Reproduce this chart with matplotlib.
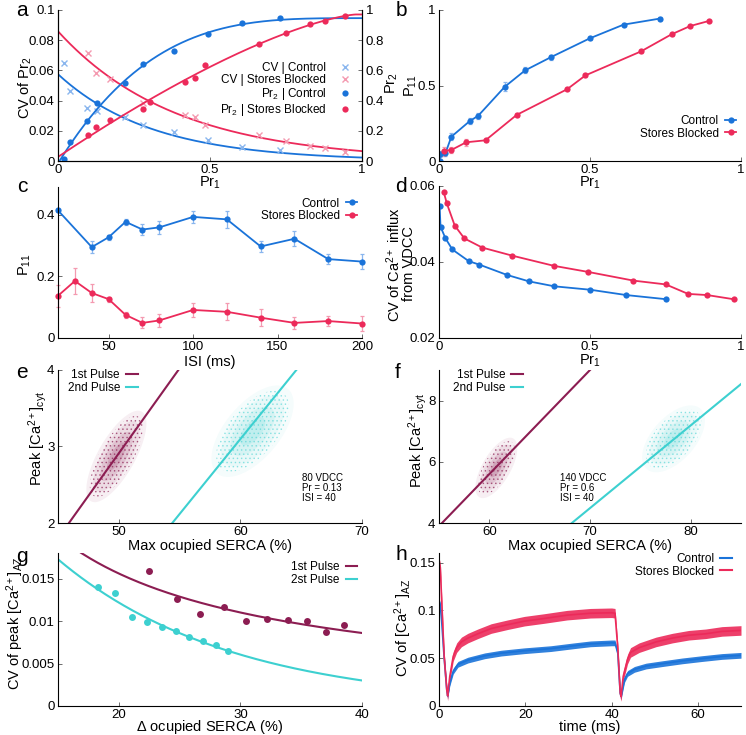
import numpy as np
import matplotlib
matplotlib.use("Agg")
import matplotlib.pyplot as plt
from matplotlib.lines import Line2D

plt.rcParams['font.family'] = ['Liberation Sans', 'DejaVu Sans']
plt.rcParams['mathtext.fontset'] = 'custom'
plt.rcParams['mathtext.rm'] = 'Liberation Sans'
plt.rcParams['mathtext.it'] = 'Liberation Sans:italic'
plt.rcParams['mathtext.default'] = 'regular'
plt.rcParams['hatch.linewidth'] = 0.6

BLUE = '#1a73d9'
RED = '#ec2a5a'
LBLUE = '#8ab6ee'
LRED = '#f49ab0'
MAROON = '#8c1d52'
CYAN = '#3dd0d0'

# ---- panel a ----
a_cv_ctrl_x = [0.02, 0.038, 0.095, 0.129, 0.221, 0.28, 0.38, 0.493, 0.606, 0.729]
a_cv_ctrl_y = [0.0647, 0.0466, 0.0353, 0.033, 0.0289, 0.0238, 0.019, 0.0139, 0.0095, 0.0073]
a_cv_sb_x = [0.099, 0.126, 0.172, 0.28, 0.417, 0.452, 0.482, 0.661, 0.751, 0.828, 0.877, 0.943]
a_cv_sb_y = [0.0713, 0.0585, 0.0543, 0.0386, 0.0305, 0.0289, 0.0238, 0.0172, 0.0135, 0.0099, 0.0088, 0.0062]
a_pr_ctrl_x = [0.02, 0.038, 0.095, 0.129, 0.221, 0.28, 0.38, 0.493, 0.606, 0.729]
a_pr_ctrl_y = [0.011, 0.128, 0.265, 0.382, 0.514, 0.642, 0.731, 0.839, 0.916, 0.945]
a_pr_sb_x = [0.099, 0.126, 0.172, 0.28, 0.302, 0.417, 0.452, 0.482, 0.661, 0.751, 0.828, 0.877, 0.943]
a_pr_sb_y = [0.170, 0.227, 0.272, 0.347, 0.393, 0.525, 0.55, 0.634, 0.775, 0.848, 0.907, 0.929, 0.962]

# ---- panel b ----
b_ctrl_x = [0.002, 0.004, 0.021, 0.041, 0.101, 0.130, 0.218, 0.285, 0.37, 0.499, 0.611, 0.731]
b_ctrl_y = [0.0, 0.046, 0.05, 0.161, 0.263, 0.30, 0.492, 0.60, 0.687, 0.812, 0.903, 0.943]
b_ctrl_e = [0.0, 0.02, 0.02, 0.025, 0.02, 0.02, 0.03, 0.02, 0.015, 0.008, 0.008, 0.008]
b_sb_x = [0.015, 0.041, 0.09, 0.154, 0.257, 0.424, 0.485, 0.669, 0.77, 0.832, 0.893]
b_sb_y = [0.066, 0.073, 0.124, 0.137, 0.305, 0.475, 0.567, 0.726, 0.839, 0.894, 0.927]
b_sb_e = [0.03, 0.02, 0.025, 0.01, 0.012, 0.008, 0.008, 0.008, 0.008, 0.008, 0.008]

# ---- panel c ----
c_ctrl_x = [20, 40, 50, 60, 70, 80, 100, 120, 140, 160, 180, 200]
c_ctrl_y = [0.414, 0.295, 0.327, 0.377, 0.352, 0.359, 0.393, 0.385, 0.297, 0.322, 0.256, 0.248]
c_ctrl_e = [0.005, 0.02, 0.008, 0.01, 0.017, 0.02, 0.02, 0.028, 0.017, 0.025, 0.017, 0.023]
c_sb_x = [20, 30, 40, 50, 60, 70, 80, 100, 120, 140, 160, 180, 200]
c_sb_y = [0.137, 0.185, 0.146, 0.126, 0.075, 0.049, 0.057, 0.091, 0.085, 0.066, 0.049, 0.055, 0.047]
c_sb_e = [0.035, 0.042, 0.028, 0.008, 0.01, 0.018, 0.022, 0.022, 0.028, 0.027, 0.02, 0.017, 0.023]

# ---- panel d ----
d_ctrl_x = [0.002, 0.005, 0.021, 0.044, 0.099, 0.134, 0.225, 0.298, 0.382, 0.501, 0.62, 0.753]
d_ctrl_y = [0.0547, 0.0493, 0.0463, 0.0433, 0.0402, 0.0393, 0.0366, 0.0349, 0.0336, 0.0327, 0.0313, 0.0302]
d_sb_x = [0.016, 0.026, 0.052, 0.084, 0.143, 0.241, 0.38, 0.493, 0.644, 0.751, 0.825, 0.888, 0.976]
d_sb_y = [0.0583, 0.0554, 0.0496, 0.0462, 0.0438, 0.0417, 0.039, 0.0374, 0.0351, 0.0341, 0.0316, 0.0313, 0.0302]

# ---- panels e, f: clouds (mean, sd, correlation) and regression lines ----
e_cloud1 = dict(mean=(49.8, 2.87), sd=(0.95, 0.23), rho=0.72)
e_cloud2 = dict(mean=(61.0, 3.2), sd=(1.3, 0.23), rho=0.6)
e_line1_x, e_line1_y = [45.9, 54.9], [2.0, 4.0]
e_line2_x, e_line2_y = [54.4, 64.6], [2.0, 4.0]
f_cloud1 = dict(mean=(60.7, 5.8), sd=(0.8, 0.38), rho=0.65)
f_cloud2 = dict(mean=(78.3, 6.75), sd=(1.2, 0.42), rho=0.55)
f_line1_x, f_line1_y = [55.3, 70.0], [4.0, 9.0]
f_line2_x, f_line2_y = [68.2, 85.0], [4.0, 8.54]

# ---- panel g ----
g_p1_x = [22.49, 24.78, 26.69, 28.65, 30.5, 32.2, 33.9, 35.47, 37.04, 38.56]
g_p1_y = [0.01584, 0.01264, 0.0108, 0.01168, 0.01004, 0.01028, 0.01016, 0.00996, 0.00876, 0.00948]
g_p2_x = [18.26, 19.72, 21.1, 22.29, 23.59, 24.7, 25.8, 26.9, 28.0, 29.0]
g_p2_y = [0.0140, 0.01332, 0.01052, 0.00992, 0.00924, 0.00884, 0.00812, 0.0076, 0.00716, 0.00644]

# ---- panel h ----
h_red_t = [0, 0.3, 0.6, 1.2, 1.8, 2.0, 2.5, 3.3, 4.1, 5.2, 6.7, 9.0, 12.1, 15.9, 19.8, 24.4, 29.7, 35.1,
           40.0, 40.8, 41.45, 42.0, 42.2, 42.7, 43.7, 44.4, 46.4, 50.3, 54.1, 57.9, 61.8, 65.6, 70]
h_red_v = [0.15, 0.145, 0.113, 0.052, 0.017, 0.0106, 0.031, 0.052, 0.061, 0.067, 0.071, 0.0755, 0.081,
           0.085, 0.0887, 0.0915, 0.095, 0.097, 0.0975, 0.097, 0.06, 0.0135, 0.010, 0.031, 0.049, 0.056,
           0.061, 0.067, 0.071, 0.074, 0.0755, 0.078, 0.079]
h_blue_t = [0, 0.3, 0.6, 1.2, 1.8, 2.0, 2.5, 3.3, 4.4, 6.7, 10.6, 14.4, 19.8, 25.9, 31.3, 35.1, 40.0,
            40.8, 41.45, 42.0, 42.2, 43.0, 43.7, 45.3, 48, 51.8, 56.4, 61, 65.6, 70]
h_blue_v = [0.11, 0.105, 0.09, 0.05, 0.017, 0.0106, 0.024, 0.0365, 0.0436, 0.048, 0.0525, 0.0553, 0.0578,
            0.060, 0.063, 0.065, 0.066, 0.066, 0.055, 0.0135, 0.010, 0.0277, 0.034, 0.0383, 0.0418,
            0.0443, 0.0472, 0.0496, 0.0518, 0.053]


def fit_scaled(x, y, basis, grid):
    # least squares y = A * basis(x, p), best p over a grid
    x = np.asarray(x); y = np.asarray(y)
    best = None
    for p in grid:
        b = basis(x, p)
        A = (b @ y) / (b @ b)
        err = np.sum((A * b - y) ** 2)
        if best is None or err < best[0]:
            best = (err, p, A)
    _, p, A = best
    return lambda t: A * basis(t, p)


def style(ax, xlim, ylim, xt, xtl, yt, ytl):
    ax.set_xlim(*xlim); ax.set_ylim(*ylim)
    ax.set_xticks(xt, xtl); ax.set_yticks(yt, ytl)
    for s in ['top', 'right']:
        ax.spines[s].set_visible(False)
    for s in ['left', 'bottom']:
        ax.spines[s].set_linewidth(0.8)
    ax.tick_params(direction='in', length=3, width=0.6, labelsize=9.5, pad=2.5, color='#555555')


def cloud(ax, c, color, dens):
    sx, sy = c['sd']; r = c['rho']
    cov = np.array([[sx * sx, r * sx * sy], [r * sx * sy, sy * sy]])
    L = np.linalg.cholesky(cov)
    th = np.linspace(0, 2 * np.pi, 120)
    circ = np.vstack([np.cos(th), np.sin(th)])
    for k, al in [(2.6, 0.05), (2.0, 0.07), (1.4, 0.10), (0.8, 0.14)]:
        pts = (L @ circ) * k + np.array(c['mean'])[:, None]
        ax.fill(pts[0], pts[1], facecolor=color, alpha=al * dens, edgecolor='none', lw=0)
    pts = (L @ circ) * 2.3 + np.array(c['mean'])[:, None]
    ax.fill(pts[0], pts[1], facecolor='none', edgecolor=color, alpha=0.45 * dens, lw=0, hatch='....')


def legend(ax, handles, labels, anchor, hl=1.0):
    ax.legend(handles, labels, loc='upper right', bbox_to_anchor=anchor, frameon=False,
              markerfirst=False, fontsize=LEGS, handlelength=hl, handletextpad=0.5,
              labelspacing=0.05, borderpad=0, borderaxespad=0)


W, H = 746, 735
fig = plt.figure(figsize=(W / 100, H / 100), dpi=100)


def axes_px(l, r, t, b):
    return fig.add_axes([l / W, 1 - b / H, (r - l) / W, (b - t) / H])


def ftext(x, y, s, rot=0, size=None):
    fig.text(x / W, 1 - y / H, s, rotation=rot, ha='center', va='center',
             fontsize=size or LABS, linespacing=0.95)


LABS = 10.5
LEGS = 8.5

# panel a
ax = axes_px(58, 362, 10, 161)
style(ax, (0, 1), (0, 0.1), [0, 0.5, 1], ['0', '0.5', '1'],
      [0, 0.02, 0.04, 0.06, 0.08, 0.1], ['0', '0.02', '0.04', '0.06', '0.08', '0.1'])
ax.spines['right'].set_visible(True); ax.spines['right'].set_linewidth(0.8)
ax2 = ax.twinx()
ax2.set_ylim(0, 1)
ax2.set_yticks([0, 0.2, 0.4, 0.6, 0.8, 1], ['0', '0.2', '0.4', '0.6', '0.8', '1'])
ax2.spines['top'].set_visible(False); ax2.spines['right'].set_linewidth(0.8)
ax2.tick_params(direction='in', length=3, width=0.6, labelsize=9.5, pad=2.5, color='#555555')
xx = np.linspace(0, 1, 300)
decay = lambda t, b: np.exp(-b * np.asarray(t))
sat = lambda t, p: 1 - np.clip(1 - (np.asarray(t) - p[1]), 0, 1) ** p[0]
sat_grid = [(n, x0) for n in np.linspace(1, 5, 161) for x0 in np.linspace(-0.02, 0.05, 15)]
f_cvc = fit_scaled(a_cv_ctrl_x, a_cv_ctrl_y, decay, np.linspace(0.5, 6, 221))
f_cvs = fit_scaled(a_cv_sb_x, a_cv_sb_y, decay, np.linspace(0.5, 6, 221))
f_prc = fit_scaled(a_pr_ctrl_x, a_pr_ctrl_y, sat, sat_grid)
f_prs = fit_scaled(a_pr_sb_x, a_pr_sb_y, sat, sat_grid)
ax.plot(xx, f_cvc(xx), color=BLUE, lw=1.3)
ax.plot(xx, f_cvs(xx), color=RED, lw=1.3)
ax2.plot(xx, np.clip(f_prc(xx), 0, None), color=BLUE, lw=1.3)
ax2.plot(xx, np.clip(f_prs(xx), 0, None), color=RED, lw=1.3)
ax.plot(a_cv_ctrl_x, a_cv_ctrl_y, 'x', color=LBLUE, ms=5, mew=1)
ax.plot(a_cv_sb_x, a_cv_sb_y, 'x', color=LRED, ms=5, mew=1)
ax2.plot(a_pr_ctrl_x, a_pr_ctrl_y, 'o', color=BLUE, ms=4.5, mec='none')
ax2.plot(a_pr_sb_x, a_pr_sb_y, 'o', color=RED, ms=4.5, mec='none')
hs = [Line2D([], [], ls='none', marker='x', color=LBLUE, ms=5, mew=1),
      Line2D([], [], ls='none', marker='x', color=LRED, ms=5, mew=1),
      Line2D([], [], ls='none', marker='o', color=BLUE, ms=4.5, mec='none'),
      Line2D([], [], ls='none', marker='o', color=RED, ms=4.5, mec='none')]
ax2.legend(hs, ['CV | Control', 'CV | Stores Blocked', 'Pr$_2$ | Control', 'Pr$_2$ | Stores Blocked'],
           loc='upper right', bbox_to_anchor=(0.96, 0.655), frameon=False, markerfirst=False,
           fontsize=LEGS, handlelength=0.8, handletextpad=1.2, labelspacing=0.0, borderpad=0,
           borderaxespad=0)
ftext(25, 88, 'CV of Pr$_2$', 90)
ftext(392, 83, 'Pr$_2$', 90)
ftext(210, 183, 'Pr$_1$')

# panel b
ax = axes_px(439, 741, 10, 161)
style(ax, (0, 1), (0, 1), [0, 0.5, 1], ['0', '0.5', '1'], [0, 0.5, 1], ['0', '0.5', '1'])
ax.errorbar(b_ctrl_x, b_ctrl_y, yerr=b_ctrl_e, color=BLUE, lw=1.3, marker='o', ms=4.5, mec='none',
            ecolor=LBLUE, elinewidth=0.9, capsize=1.5, capthick=0.9)
ax.errorbar(b_sb_x, b_sb_y, yerr=b_sb_e, color=RED, lw=1.3, marker='o', ms=4.5, mec='none',
            ecolor=LRED, elinewidth=0.9, capsize=1.5, capthick=0.9)
hs = [Line2D([], [], color=BLUE, lw=1.3, marker='o', ms=4.5, mec='none'),
      Line2D([], [], color=RED, lw=1.3, marker='o', ms=4.5, mec='none')]
legend(ax, hs, ['Control', 'Stores Blocked'], (0.985, 0.305))
ftext(411, 86, 'P$_{11}$', 90)
ftext(590, 183, 'Pr$_1$')

# panel c
ax = axes_px(58, 362, 187, 338)
style(ax, (20, 200), (0, 0.49), [50, 100, 150, 200], ['50', '100', '150', '200'],
      [0, 0.2, 0.4], ['0', '0.2', '0.4'])
ax.errorbar(c_ctrl_x, c_ctrl_y, yerr=c_ctrl_e, color=BLUE, lw=1.3, marker='o', ms=4.5, mec='none',
            ecolor=LBLUE, elinewidth=0.9, capsize=1.5, capthick=0.9, clip_on=False)
ax.errorbar(c_sb_x, c_sb_y, yerr=c_sb_e, color=RED, lw=1.3, marker='o', ms=4.5, mec='none',
            ecolor=LRED, elinewidth=0.9, capsize=1.5, capthick=0.9, clip_on=False)
legend(ax, hs, ['Control', 'Stores Blocked'], (0.985, 0.93))
ftext(25, 265, 'P$_{11}$', 90)
ftext(210, 362, 'ISI (ms)')

# panel d
ax = axes_px(439, 741, 186, 338)
style(ax, (0, 1), (0.02, 0.06), [0, 0.5, 1], ['0', '0.5', '1'],
      [0.02, 0.04, 0.06], ['0.02', '0.04', '0.06'])
ax.plot(d_ctrl_x, d_ctrl_y, color=BLUE, lw=1.3, marker='o', ms=4.5, mec='none')
ax.plot(d_sb_x, d_sb_y, color=RED, lw=1.3, marker='o', ms=4.5, mec='none')
ftext(400, 264, 'CV of Ca$^{2+}$ influx\nfrom VDCC', 90)
ftext(590, 361, 'Pr$_1$')

pulse_h = [Line2D([], [], color=MAROON, lw=1.5), Line2D([], [], color=CYAN, lw=1.5)]

# panel e
ax = axes_px(58, 362, 370, 523)
style(ax, (45, 70), (2, 4), [50, 60, 70], ['50', '60', '70'], [2, 3, 4], ['2', '3', '4'])
cloud(ax, e_cloud1, MAROON, 1.3)
cloud(ax, e_cloud2, CYAN, 1.0)
ax.plot(e_line1_x, e_line1_y, color=MAROON, lw=1.5)
ax.plot(e_line2_x, e_line2_y, color=CYAN, lw=1.5)
legend(ax, pulse_h, ['1st Pulse', '2nd Pulse'], (0.262, 1.005))
ax.text(0.803, 0.33, '80 VDCC\nPr = 0.13\nISI = 40', transform=ax.transAxes, fontsize=7,
        va='top', ha='left', linespacing=1.0)
ftext(38, 438, 'Peak [Ca$^{2+}$]$_{cyt}$', 90)
ftext(210, 546, 'Max ocupied SERCA (%)')

# panel f
ax = axes_px(439, 741, 370, 523)
style(ax, (55, 85), (4, 9), [60, 70, 80], ['60', '70', '80'], [4, 6, 8], ['4', '6', '8'])
cloud(ax, f_cloud1, MAROON, 1.3)
cloud(ax, f_cloud2, CYAN, 1.0)
ax.plot(f_line1_x, f_line1_y, color=MAROON, lw=1.5)
ax.plot(f_line2_x, f_line2_y, color=CYAN, lw=1.5)
legend(ax, pulse_h, ['1st Pulse', '2nd Pulse'], (0.278, 1.005))
ax.text(0.40, 0.33, '140 VDCC\nPr = 0.6\nISI = 40', transform=ax.transAxes, fontsize=7,
        va='top', ha='left', linespacing=1.0)
ftext(418, 440, 'Peak [Ca$^{2+}$]$_{cyt}$', 90)
ftext(590, 546, 'Max ocupied SERCA (%)')

# panel g
ax = axes_px(58, 362, 553, 706)
style(ax, (15, 40), (0, 0.018), [20, 30, 40], ['20', '30', '40'],
      [0, 0.005, 0.01, 0.015], ['0', '0.005', '0.01', '0.015'])
gx = np.linspace(15, 40, 200)
p1 = np.polyfit(np.log(g_p1_x), np.log(g_p1_y), 1)      # power law
p2 = np.polyfit(g_p2_x, np.log(g_p2_y), 1)              # exponential
ax.plot(gx, np.exp(np.polyval(p1, np.log(gx))), color=MAROON, lw=1.5)
ax.plot(gx, np.exp(np.polyval(p2, gx)), color=CYAN, lw=1.5)
ax.plot(g_p1_x, g_p1_y, 'o', color=MAROON, ms=5, mec='none')
ax.plot(g_p2_x, g_p2_y, 'o', color=CYAN, ms=5, mec='none')
legend(ax, pulse_h, ['1st Pulse', '2st Pulse'], (0.985, 0.945))
ftext(15, 623, 'CV of peak [Ca$^{2+}$]$_{AZ}$', 90)
ftext(210, 727, '$\\Delta$ ocupied SERCA (%)')

# panel h
ax = axes_px(439, 741, 553, 706)
style(ax, (0, 70), (0, 0.16), [0, 20, 40, 60], ['0', '20', '40', '60'],
      [0, 0.05, 0.1, 0.15], ['0', '0.05', '0.1', '0.15'])
ax.fill_between(h_blue_t, np.array(h_blue_v) - 0.003, np.array(h_blue_v) + 0.003, color=BLUE, lw=0, alpha=0.9)
ax.plot(h_blue_t, h_blue_v, color=BLUE, lw=1.2)
ax.fill_between(h_red_t, np.array(h_red_v) - 0.005, np.array(h_red_v) + 0.005, color=RED, lw=0, alpha=0.9)
ax.plot(h_red_t, h_red_v, color=RED, lw=1.2)
legend(ax, [Line2D([], [], color=BLUE, lw=1.5), Line2D([], [], color=RED, lw=1.5)],
       ['Control', 'Stores Blocked'], (0.97, 1.0))
ftext(403, 628, 'CV of [Ca$^{2+}$]$_{AZ}$', 90)
ftext(590, 727, 'time (ms)')

# panel letters
for lab, x, y in [('a', 22, 10), ('b', 401, 10), ('c', 22, 187), ('d', 401, 187),
                  ('e', 22, 372), ('f', 398, 372), ('g', 22, 556), ('h', 401, 554)]:
    ftext(x, y, lab, size=15)

fig.savefig('out.png', dpi=100)
